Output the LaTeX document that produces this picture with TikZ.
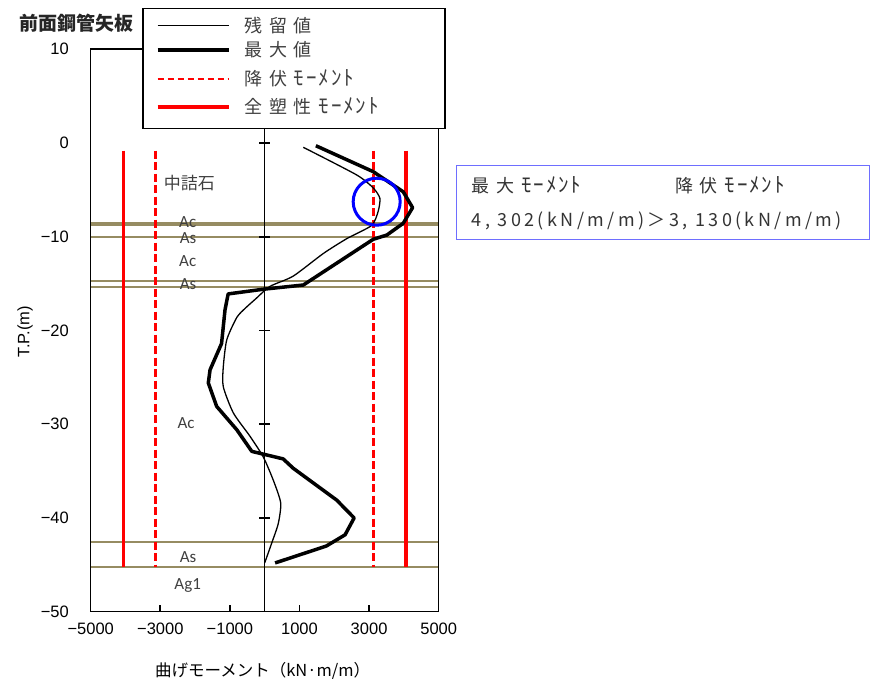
\documentclass[tikz,border=0pt]{standalone}
\usepackage{fontspec}
\setmainfont{Liberation Sans}
\newfontfamily\jpfont{Noto Sans CJK JP}
\newfontfamily\minchofont[LetterSpace=15]{Noto Sans CJK JP}
\newfontfamily\kanafont[LetterSpace=9]{Noto Sans CJK JP}
\newfontfamily\boxfont[LetterSpace=19]{Noto Sans CJK JP}
\newfontfamily\soilfont{Carlito}
\newcommand{\kana}[1]{{\kanafont\fontsize{21}{21}\selectfont #1}}
\usetikzlibrary{positioning}
\definecolor{soilolive}{RGB}{150,140,98}
\definecolor{labelgray}{RGB}{64,64,64}
\definecolor{boxblue}{RGB}{110,110,255}
\definecolor{circleblue}{RGB}{0,0,255}
\definecolor{momentred}{RGB}{255,0,0}

\begin{document}
\begin{tikzpicture}[x=34.8pt, y=9.373pt,
    residual/.style={line width=1.3pt, black, line join=round},
    maxline/.style={line width=3.5pt, black, line join=round},
    yieldline/.style={line width=3.2pt, momentred, dash pattern=on 8pt off 3.5pt},
    plasticline/.style={line width=3.2pt, momentred},
    soilline/.style={line width=2pt, soilolive},
    axisline/.style={line width=1.6pt, black},
    soillabel/.style={font=\soilfont\fontsize{17}{20}\selectfont, text=labelgray, inner sep=0pt},
    ticklabel/.style={font=\fontsize{16.5}{19}\selectfont, inner sep=0pt},
    legendtext/.style={font=\minchofont\fontsize{18}{21}\selectfont, text=labelgray, anchor=west, inner sep=0pt}
]
\useasboundingbox (-7.606,-57.72) rectangle (17.451,15.257);

% Soil layer boundaries
\foreach \yv in {-8.5,-8.78,-10.06,-14.69,-15.4,-42.54,-45.2}
    \draw[soilline] (-5,\yv) -- (5,\yv);

% Yield and full plastic moment
\draw[plasticline] (-4.06,-0.82) -- (-4.06,-45.2);
\draw[plasticline] (4.06,-0.82) -- (4.06,-45.2);
\draw[yieldline] (-3.13,-0.82) -- (-3.13,-45.2);
\draw[yieldline] (3.13,-0.82) -- (3.13,-45.2);

% Centre line with depth ticks
\draw[axisline] (0,10) -- (0,-50);
\foreach \yv in {0,-10,-20,-30,-40}
    \draw[axisline] (-0.152,\yv) -- (0.152,\yv);

% Residual moment
\draw[residual] plot[smooth, tension=0.4] coordinates {(1.11,-0.46) (2.64,-3.4) (3.12,-4.8) (3.31,-5.9) (3.26,-7.3) (3.07,-8.8) (2.36,-10.2) (1.68,-11.8) (0.82,-14.2) (0.15,-15.3) (-0.25,-16.6) (-0.55,-17.6) (-0.80,-18.6) (-1.09,-21.0) (-1.19,-23.9) (-1.19,-26.0) (-0.90,-28.8) (-0.42,-31.3) (-0.04,-33.5) (0.25,-36.0) (0.46,-38.4) (0.39,-40.6) (0.20,-42.7) (0,-44.8)};

% Maximum moment
\draw[maxline] plot coordinates {(1.47,-0.29) (3.12,-3.06) (3.98,-5.2) (4.25,-6.9) (3.98,-8.57) (3.51,-9.82) (3.12,-10.27) (1.11,-15.15) (-0.04,-15.6) (-1.05,-16.1) (-1.14,-17.8) (-1.24,-21.4) (-1.57,-24.2) (-1.62,-25.6) (-1.38,-28.1) (-0.80,-30.6) (-0.37,-32.9) (0.53,-33.7) (0.82,-34.7) (2.07,-38.1) (2.57,-40.0) (2.31,-41.8) (1.77,-43.0) (0.30,-44.8)};

% Highlight of the peak
\draw[circleblue, line width=3pt] (3.218,-6.263) circle[radius=23.5pt];

% Soil names
\node[soillabel] (fill) at (-2.167,-4.27) {\jpfont 中詰石};
\node[soillabel] (ac1) at (-2.213,-8.4) {Ac};
\node[soillabel] (as1) at (-2.2,-10.15) {As};
\node[soillabel] (ac2) at (-2.213,-12.59) {Ac};
\node[soillabel] (as2) at (-2.2,-15.01) {As};
\node[soillabel] (ac3) at (-2.26,-29.9) {Ac};
\node[soillabel] (as3) at (-2.2,-44.2) {As};
\node[soillabel] (ag1) at (-2.213,-47.23) {Ag1};

% Frame and axis ticks
\draw[axisline] (-5,-50) rectangle (5,10);
\foreach \xv in {-3,-1,1,3}
    \draw[axisline] (\xv,-50) -- ++(0,0.71);
\foreach \yv/\yt in {10/10, 0/0, -10/−10, -20/−20, -30/−30, -40/−40, -50/−50}
    \node[ticklabel, anchor=east] (yl\yv) at (-5.624,\yv) {\yt};
\foreach \xv/\xt in {-5/−5000, -3/−3000, -1/−1000, 1/1000, 3/3000, 5/5000}
    \node[ticklabel] (xl\xv) at (\xv,-51.88) {\xt};

\node[font=\jpfont\bfseries\fontsize{19}{22}\selectfont, text=black!85] (title) at (-5.42,12.83) {前面鋼管矢板};
\node[rotate=90, font=\fontsize{16.5}{19}\selectfont] (ytitle) at (-6.888,-20.13) {T.P.(m)};
\node[font=\jpfont\fontsize{16.5}{19}\selectfont] (xtitle) at (-0.06,-56.3) {曲げモーメント（kN·m/m）};

% Legend
\draw[line width=1.6pt, fill=white] (-3.494,14.371) rectangle (5.181,1.568);
\draw[line width=1.5pt] (-3.075,12.557) -- (-1.026,12.557);
\draw[line width=4pt] (-3.075,9.922) -- (-1.026,9.922);
\draw[line width=2pt, momentred, dash pattern=on 6pt off 4pt] (-3.075,6.86) -- (-1.026,6.86);
\draw[line width=4pt, momentred] (-3.075,3.873) -- (-1.026,3.873);
\node[legendtext] (lgres) at (-0.586,12.557) {残 留 値};
\node[legendtext] (lgmax) at (-0.586,9.922) {最 大 値};
\node[legendtext] (lgyld) at (-0.586,6.86) {降 伏 \kana{ﾓｰﾒﾝﾄ}};
\node[legendtext] (lgpls) at (-0.586,3.873) {全 塑 性 \kana{ﾓｰﾒﾝﾄ}};

% Comparison box
\draw[boxblue, line width=1pt, fill=white] (5.503,-2.347) rectangle (17.388,-10.274);
\node[legendtext, text=black!80] (boxmax) at (5.948,-4.481) {最 大 \kana{ﾓｰﾒﾝﾄ}};
\node[legendtext, text=black!80] (boxyld) at (11.79,-4.481) {降 伏 \kana{ﾓｰﾒﾝﾄ}};
\node[legendtext, text=black!80, font=\boxfont\fontsize{18}{21}\selectfont] (boxval) at (5.948,-8.29) {4, 302(kN/m/m)＞3, 130(kN/m/m)};

\end{tikzpicture}
\end{document}
